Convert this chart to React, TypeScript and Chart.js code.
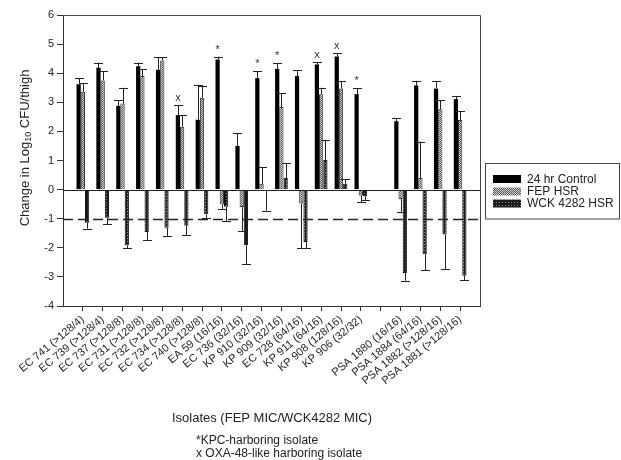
import React, { useEffect, useRef } from 'react';
import { Chart, registerables } from 'chart.js';

Chart.register(...registerables);

const categories = [
  'EC 741 (>128/4)', 'EC 739 (>128/4)', 'EC 737 (>128/8)', 'EC 731 (>128/8)', 'EC 732 (>128/8)',
  'EC 734 (>128/8)', 'EC 740 (>128/8)', 'EA 59 (16/16)', 'EC 736 (32/16)', 'KP 910 (32/16)',
  'KP 909 (32/16)', 'EC 728 (64/16)', 'KP 911 (64/16)', 'KP 908 (128/16)', 'KP 906 (32/32)',
  '', 'PSA 1880 (16/16)', 'PSA 1884 (64/16)', 'PSA 1882 (>128/16)', 'PSA 1881 (>128/16)',
];

const controlValues = [3.62, 4.19, 2.88, 4.24, 4.12, 2.56, 2.40, 4.47, 1.50, 3.83, 4.15, 3.90, 4.30, 4.57, 3.28, null, 2.35, 3.58, 3.47, 3.11];
const controlErrors = [0.21, 0.17, 0.19, 0.12, 0.43, 0.35, 1.20, 0.10, 0.43, 0.23, 0.20, 0.20, 0.08, 0.12, 0.21, null, 0.12, 0.16, 0.26, 0.11];

const fepValues = [3.36, 3.75, 2.96, 3.90, 4.44, 2.16, 3.16, -0.51, -0.60, 0.20, 2.84, -0.48, 3.28, 3.47, -0.20, null, -0.32, 0.40, 2.76, 2.39];
const fepErrors = [0.31, 0.32, 0.54, 0.25, 0.11, 0.39, 0.41, 0.17, 0.82, 0.57, 0.48, 1.54, 0.22, 0.26, 0.23, null, 0.44, 1.25, 0.31, 0.31];

const wckValues = [-1.14, -0.97, -1.91, -1.46, -1.31, -1.24, -0.85, -0.59, -1.91, -0.04, 0.40, -1.80, 1.02, 0.20, -0.23, null, -2.87, -2.22, -1.54, -2.96];
const wckErrors = [0.20, 0.22, 0.10, 0.27, 0.28, 0.33, 0.14, 0.49, 0.65, 0.68, 0.51, 0.22, 0.69, 0.16, 0.13, null, 0.26, 0.54, 1.19, 0.15];

const markers = ['', '', '', '', '', 'x', '', '*', '', '*', '*', '', 'x', 'x', '*', '', '', '', '', ''];

const seriesNames = ['24 hr Control', 'FEP HSR', 'WCK 4282 HSR'];
const yTicks = [-4, -3, -2, -1, 0, 1, 2, 3, 4, 5, 6];
const thresholdValue = -1;

const FONT = '"Liberation Sans", Arial, sans-serif';

function makePattern(kind: 'hatch' | 'dots'): CanvasPattern | string {
  const c = document.createElement('canvas');
  const ctx = c.getContext('2d');
  if (!ctx) return '#777';
  if (kind === 'hatch') {
    c.width = 4; c.height = 4;
    ctx.fillStyle = '#d8d8d8';
    ctx.fillRect(0, 0, 4, 4);
    ctx.fillStyle = '#505050';
    for (let i = 0; i < 4; i++) {
      ctx.fillRect(3 - i, i, 1, 1);
      ctx.fillRect((3 - i + 2) % 4, i, 1, 1);
    }
  } else {
    c.width = 3; c.height = 3;
    ctx.fillStyle = '#1a1a1a';
    ctx.fillRect(0, 0, 3, 3);
    ctx.fillStyle = '#8a8a8a';
    ctx.fillRect(1, 1, 1, 1);
  }
  const p = ctx.createPattern(c, 'repeat');
  return p || '#777';
}

export default function App() {
  const ref = useRef<HTMLCanvasElement>(null);

  useEffect(() => {
    document.body.style.margin = '0';
    if (!ref.current) return;
    const labels = ['', ...categories, ''];
    const pad = (arr: (number | null)[]) => [null, ...arr, null];
    const hatch = makePattern('hatch');
    const dots = makePattern('dots');
    const fills: (string | CanvasPattern)[] = ['#000000', hatch, dots];
    const borders = ['#000000', '#333333', '#111111'];
    const errs = [pad(controlErrors), pad(fepErrors), pad(wckErrors)];
    const marks = ['', ...markers, ''];

    const decor = {
      id: 'decor',
      afterDatasetsDraw(chart: any) {
        const ctx = chart.ctx;
        const ys = chart.scales.y;
        const area = chart.chartArea;
        ctx.save();
        // error bars
        chart.data.datasets.forEach((ds: any, di: number) => {
          const meta = chart.getDatasetMeta(di);
          meta.data.forEach((el: any, j: number) => {
            const v = ds.data[j];
            const e = errs[di][j];
            if (v === null || v === undefined || e === null || e === undefined) return;
            const sign = v >= 0 ? 1 : -1;
            const yEnd = ys.getPixelForValue(v + sign * e);
            const x = Math.round(el.x) + 0.5;
            ctx.strokeStyle = '#222';
            ctx.lineWidth = 1;
            ctx.beginPath();
            ctx.moveTo(x, el.y);
            ctx.lineTo(x, yEnd);
            ctx.moveTo(x - 4.5, Math.round(yEnd) + 0.5);
            ctx.lineTo(x + 4.5, Math.round(yEnd) + 0.5);
            ctx.stroke();
            if (di === 0 && marks[j]) {
              ctx.fillStyle = '#333';
              ctx.font = `11px ${FONT}`;
              ctx.textAlign = 'center';
              ctx.textBaseline = 'alphabetic';
              ctx.fillText(marks[j], el.x, yEnd - 4);
            }
          });
        });
        // zero line
        const y0 = Math.round(ys.getPixelForValue(0)) + 0.5;
        ctx.strokeStyle = '#222';
        ctx.lineWidth = 1;
        ctx.beginPath();
        ctx.moveTo(area.left, y0);
        ctx.lineTo(area.right, y0);
        ctx.stroke();
        // dashed threshold
        const yT = Math.round(ys.getPixelForValue(thresholdValue)) + 0.5;
        ctx.setLineDash([10, 5]);
        ctx.lineWidth = 1.3;
        ctx.beginPath();
        ctx.moveTo(area.left, yT);
        ctx.lineTo(area.right, yT);
        ctx.stroke();
        ctx.setLineDash([]);
        // top & right border
        ctx.strokeStyle = '#444';
        ctx.lineWidth = 1;
        ctx.beginPath();
        ctx.moveTo(area.left, Math.round(area.top) + 0.5);
        ctx.lineTo(Math.round(area.right) + 0.5, Math.round(area.top) + 0.5);
        ctx.lineTo(Math.round(area.right) + 0.5, area.bottom);
        ctx.stroke();
        ctx.restore();
      },
      afterDraw(chart: any) {
        const ctx = chart.ctx;
        ctx.save();
        // legend
        ctx.strokeStyle = '#444';
        ctx.lineWidth = 1;
        ctx.strokeRect(485.5, 163.5, 134, 55.5);
        const rows = [179, 191.5, 203.5];
        seriesNames.forEach((name, i) => {
          ctx.fillStyle = fills[i];
          ctx.fillRect(493, rows[i] - 4, 28, 8);
          ctx.fillStyle = '#222';
          ctx.font = `12px ${FONT}`;
          ctx.textAlign = 'left';
          ctx.textBaseline = 'middle';
          ctx.fillText(name, 527, rows[i] + 0.5);
        });
        // y title
        ctx.save();
        ctx.translate(25, 148);
        ctx.rotate(-Math.PI / 2);
        ctx.fillStyle = '#222';
        ctx.textBaseline = 'middle';
        ctx.textAlign = 'left';
        const p1 = 'Change in Log';
        const p2 = '10';
        const p3 = ' CFU/thigh';
        ctx.font = `13px ${FONT}`;
        const w1 = ctx.measureText(p1).width;
        const w3 = ctx.measureText(p3).width;
        ctx.font = `9px ${FONT}`;
        const w2 = ctx.measureText(p2).width;
        const start = -(w1 + w2 + w3) / 2;
        ctx.font = `13px ${FONT}`;
        ctx.fillText(p1, start, 0);
        ctx.font = `9px ${FONT}`;
        ctx.fillText(p2, start + w1, 4);
        ctx.font = `13px ${FONT}`;
        ctx.fillText(p3, start + w1 + w2, 0);
        ctx.restore();
        // x title
        ctx.fillStyle = '#222';
        ctx.font = `13px ${FONT}`;
        ctx.textAlign = 'center';
        ctx.textBaseline = 'middle';
        ctx.fillText('Isolates (FEP MIC/WCK4282 MIC)', 272, 418);
        // footnotes
        ctx.font = `12px ${FONT}`;
        ctx.textAlign = 'left';
        ctx.fillText('*KPC-harboring isolate', 196, 441);
        ctx.fillText('x OXA-48-like harboring isolate', 196, 454);
        ctx.restore();
      },
    };

    const chart = new Chart(ref.current, {
      type: 'bar',
      data: {
        labels,
        datasets: [
          { label: seriesNames[0], data: pad(controlValues), backgroundColor: fills[0], borderColor: borders[0], borderWidth: 0 },
          { label: seriesNames[1], data: pad(fepValues), backgroundColor: fills[1], borderColor: borders[1], borderWidth: 1 },
          { label: seriesNames[2], data: pad(wckValues), backgroundColor: fills[2], borderColor: borders[2], borderWidth: 1 },
        ] as any,
      },
      options: {
        animation: false,
        responsive: true,
        maintainAspectRatio: false,
        layout: { padding: { left: 0, right: 141, top: 15, bottom: 0 } },
        datasets: { bar: { categoryPercentage: 0.64, barPercentage: 1 } } as any,
        plugins: { legend: { display: false }, tooltip: { enabled: false } },
        scales: {
          x: {
            type: 'category',
            offset: false,
            grid: {
              offset: false,
              drawOnChartArea: false,
              drawTicks: true,
              tickLength: 5,
              color: (c: any) => (c.index === 0 || c.index === labels.length - 1 ? 'rgba(0,0,0,0)' : '#333'),
            },
            border: { color: '#333', width: 1 },
            ticks: {
              autoSkip: false,
              maxRotation: 40,
              minRotation: 40,
              padding: 2,
              color: '#222',
              font: { family: FONT, size: 11 },
            },
            afterFit: (s: any) => { s.height = 154; },
          },
          y: {
            min: -4,
            max: 6,
            afterBuildTicks: (s: any) => { s.ticks = yTicks.map((v) => ({ value: v })); },
            grid: { drawOnChartArea: false, drawTicks: true, tickLength: 6, color: '#333' },
            border: { color: '#333', width: 1 },
            ticks: { color: '#222', padding: 3, font: { family: FONT, size: 11 } },
            afterFit: (s: any) => { s.width = 63; },
          },
        },
      } as any,
      plugins: [decor],
    });
    return () => chart.destroy();
  }, []);

  return (
    <div style={{ position: 'relative', width: 621, height: 460 }}>
      <canvas ref={ref} />
    </div>
  );
}
